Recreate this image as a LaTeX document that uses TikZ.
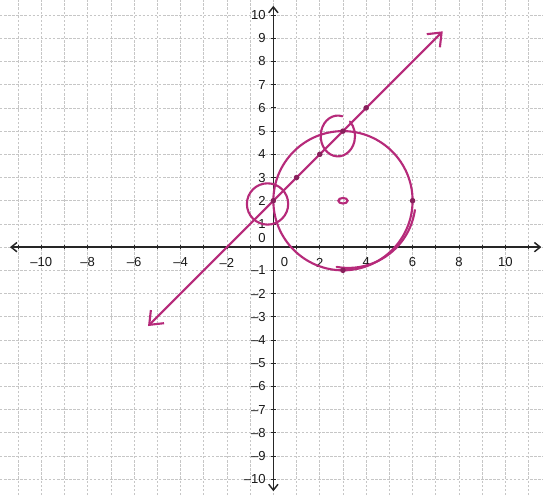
\documentclass[tikz,border=0pt]{standalone}
\usepackage{fontspec}
\setmainfont{Liberation Sans}
\usetikzlibrary{arrows.meta}
\definecolor{pen}{RGB}{182,42,122}
\tikzset{grd/.style={gray!45,line width=0.8pt,densely dashed},tk/.style={black!85,line width=1pt},
ax/.style={black!85,line width=1.8pt,{Straight Barb[length=2.5mm,width=4mm]}-{Straight Barb[length=2.5mm,width=4mm]}},
mk/.style={pen,line width=2.6pt,line cap=round},arr/.style={mk,{Straight Barb[length=5mm,width=8mm]}-{Straight Barb[length=5mm,width=8mm]}},
lbl/.style={font=\fontsize{16}{16}\selectfont,text=black!90,inner sep=0pt}}
\begin{document}
\begin{tikzpicture}[x=1cm,y=1cm]
\useasboundingbox(-11.78,-10.69)rectangle(11.62,10.65);
\fill[white](-11.78,-10.69)rectangle(11.62,10.65);
% grid
\foreach \x in {-11,...,11}\draw[grd](\x,-10.69)--(\x,10.65);
\foreach \y in {-10,...,10}\draw[grd](-11.78,\y)--(11.62,\y);
% axes
\coordinate(W)at(-11.35,0);\coordinate(E)at(11.55,0);\coordinate(S)at(0,-10.52);\coordinate(N)at(0,10.4);
\draw[ax](W)--(E);\draw[ax](S)--(N);
\foreach \x in {-11,...,11}\draw[tk](\x,-0.1)--(\x,0.1);
\foreach \y in {-10,...,10}\draw[tk](-0.1,\y)--(0.1,\y);
\foreach \x in {2,4,...,10}{\node[lbl](xp\x)at(\x,-0.66){\x};\node[lbl](xn\x)at(-\x,-0.66){–\x};}
\node[lbl](x0)at(0.48,-0.66){0};
\foreach \y in {1,...,10}{\node[lbl,anchor=east](yp\y)at(-0.33,\y){\y};\node[lbl,anchor=east](yn\y)at(-0.33,-\y){–\y};}
\node[lbl,anchor=east](y0)at(-0.33,0.39){0};
% pen work
\coordinate(A)at(-5.4,-3.4);\coordinate(B)at(7.3,9.3);
\draw[arr](A)--(B);
\draw[mk](3,2)circle(3);
\draw[mk](6.1,1.6)arc[start angle=-8,end angle=-100,radius=2.9];
\draw[mk](-0.25,1.86)circle(0.89);
\draw[mk](2.78,4.79)++(75:0.74 and 0.88)arc[start angle=75,end angle=405,x radius=0.74,y radius=0.88];
\draw[mk](3,2)ellipse[x radius=0.2,y radius=0.12];
\foreach \p in {(0,2),(1,3),(2,4),(3,5),(4,6),(6,2),(3,-1)}\fill[pen!75!black]\p circle(0.12);
\end{tikzpicture}
\end{document}
